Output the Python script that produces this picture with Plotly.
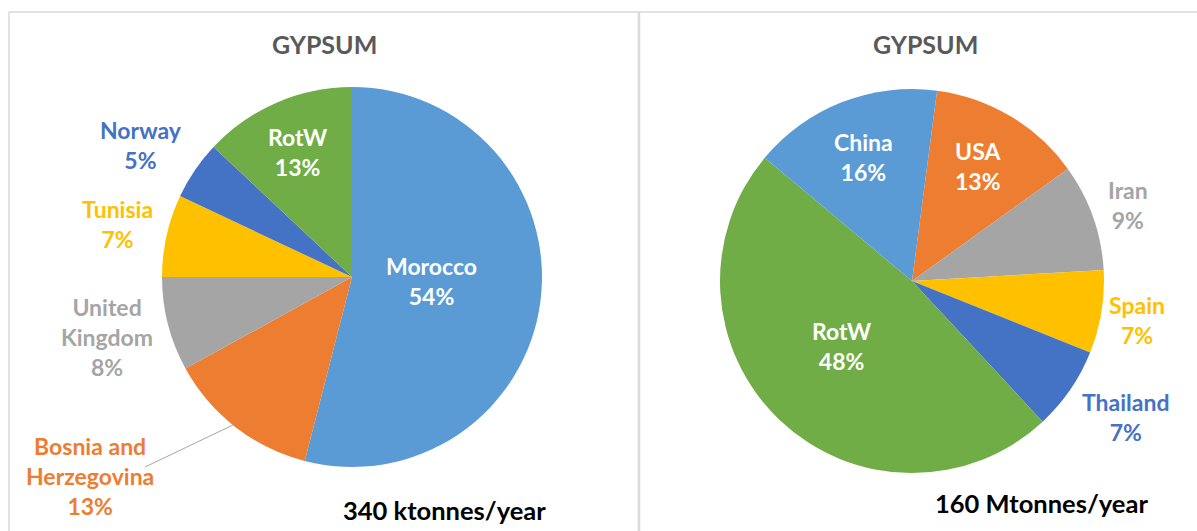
import plotly.graph_objects as go

W, H = 1197, 531

# ---- data ----
left_labels = ["Morocco", "Bosnia and<br>Herzegovina", "United<br>Kingdom", "Tunisia", "Norway", "RotW"]
left_values = [54, 13, 8, 7, 5, 13]
left_colors = ["#5B9BD5", "#ED7D31", "#A5A5A5", "#FFC000", "#4472C4", "#70AD47"]
left_text_colors = ["white", "#ED7D31", "#A5A5A5", "#FFC000", "#4472C4", "white"]

right_labels = ["USA", "Iran", "Spain", "Thailand", "RotW", "China"]
right_values = [13, 9, 7, 7, 48, 16]
right_colors = ["#ED7D31", "#A5A5A5", "#FFC000", "#4472C4", "#70AD47", "#5B9BD5"]
right_text_colors = ["white", "#A5A5A5", "#FFC000", "#4472C4", "white", "white"]

titles = ["GYPSUM", "GYPSUM"]
totals = ["340 ktonnes/year", "160 Mtonnes/year"]

# ---- layout helpers (pixel positions) ----
def px(x):
    return x / W

def py(y):
    return 1 - y / H

left_label_pos = [(431, 281), (90, 476), (107, 337), (117, 224), (141, 145), (297, 152)]
right_label_pos = [(978, 166), (1128, 205), (1137, 320), (1126, 417), (841, 346), (863, 157)]

FONT = "Lato"

fig = go.Figure()

fig.add_trace(go.Pie(
    labels=left_labels, values=left_values, sort=False, direction="clockwise", rotation=0,
    marker=dict(colors=left_colors, line=dict(width=0)), textinfo="none", showlegend=False,
    domain=dict(x=[px(162), px(542)], y=[py(467), py(87)]),
))
fig.add_trace(go.Pie(
    labels=right_labels, values=right_values, sort=False, direction="clockwise", rotation=7.5,
    marker=dict(colors=right_colors, line=dict(width=0)), textinfo="none", showlegend=False,
    domain=dict(x=[px(720), px(1104)], y=[py(473), py(89)]),
))

annotations = []
for labels, values, colors, pos in [
    (left_labels, left_values, left_text_colors, left_label_pos),
    (right_labels, right_values, right_text_colors, right_label_pos),
]:
    total = sum(values)
    for lab, v, c, (x, y) in zip(labels, values, colors, pos):
        annotations.append(dict(
            x=px(x), y=py(y), xref="paper", yref="paper", showarrow=False,
            text=f"<b>{lab}<br>{round(100 * v / total)}%</b>",
            font=dict(family=FONT, size=23, color=c), align="center",
            xanchor="center", yanchor="middle",
        ))

for t, x in zip(titles, [324, 925]):
    annotations.append(dict(x=px(x), y=py(44), xref="paper", yref="paper", showarrow=False,
                            text=f"<b>{t}</b>", font=dict(family=FONT, size=25, color="#595959"),
                            xanchor="center", yanchor="middle"))
for t, (x, y) in zip(totals, [(444, 510), (1041, 503)]):
    annotations.append(dict(x=px(x), y=py(y), xref="paper", yref="paper", showarrow=False,
                            text=f"<b>{t}</b>", font=dict(family=FONT, size=25.5, color="black"),
                            xanchor="center", yanchor="middle"))

shapes = [
    # panel borders
    dict(type="line", xref="paper", yref="paper", x0=px(9), x1=px(9), y0=py(12), y1=py(531),
         line=dict(color="#D9D9D9", width=1.5)),
    dict(type="line", xref="paper", yref="paper", x0=px(9), x1=px(1197), y0=py(12), y1=py(12),
         line=dict(color="#D9D9D9", width=1.5)),
    dict(type="line", xref="paper", yref="paper", x0=px(639), x1=px(639), y0=py(12), y1=py(531),
         line=dict(color="#D9D9D9", width=2.5)),
    # leader line for Bosnia and Herzegovina
    dict(type="line", xref="paper", yref="paper", x0=px(145), y0=py(467), x1=px(233), y1=py(425),
         line=dict(color="#A6A6A6", width=1)),
]

fig.update_layout(
    width=W, height=H, margin=dict(l=0, r=0, t=0, b=0),
    paper_bgcolor="white", plot_bgcolor="white",
    annotations=annotations, shapes=shapes,
)

fig.write_html("out.html")
